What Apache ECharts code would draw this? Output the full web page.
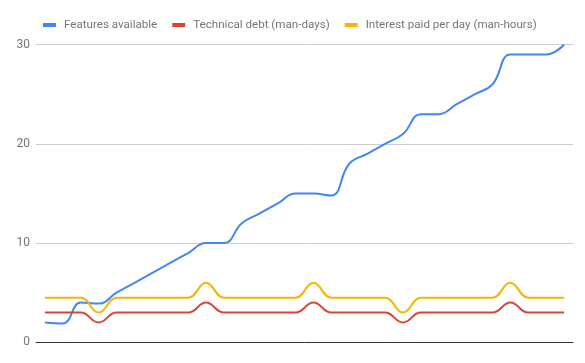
<!DOCTYPE html>
<html>
<head>
<meta charset="utf-8">
<script src="https://cdn.jsdelivr.net/npm/echarts@6/dist/echarts.min.js"></script>
<style>html,body{margin:0;padding:0;background:#fff;}#c{width:585px;height:363px;}</style>
</head>
<body>
<div id="c"></div>
<script>
const categories = Array.from({length: 30}, (_, i) => String(i + 1));
const seriesNames = ['Features available', 'Technical debt (man-days)', 'Interest paid per day (man-hours)'];
const featuresAvailable = [2, 1.9, 4, 3.9, 5, 6, 7, 8, 9, 10, 10, 12, 13, 14, 15, 15, 14.8, 18, 19, 20, 21, 23, 23, 24, 25, 26, 29, 29, 29, 30];
const technicalDebt = [3, 3, 3, 2, 3, 3, 3, 3, 3, 4, 3, 3, 3, 3, 3, 4, 3, 3, 3, 3, 2, 3, 3, 3, 3, 3, 4, 3, 3, 3];
const interestPaid = [4.5, 4.5, 4.5, 3, 4.5, 4.5, 4.5, 4.5, 4.5, 6, 4.5, 4.5, 4.5, 4.5, 4.5, 6, 4.5, 4.5, 4.5, 4.5, 3, 4.5, 4.5, 4.5, 4.5, 4.5, 6, 4.5, 4.5, 4.5];
const yTicks = [0, 10, 20, 30];
const colors = ['#4285F4', '#DB4437', '#F4B400'];

const chart = echarts.init(document.getElementById('c'), null, {renderer: 'canvas'});
const font = 'Roboto, Arial, sans-serif';
chart.setOption({
  animation: false,
  color: colors,
  textStyle: {fontFamily: font},
  legend: {
    left: 38, top: 14,
    icon: 'rect', itemWidth: 13, itemHeight: 4, itemGap: 15,
    textStyle: {color: '#757575', fontSize: 11.6, fontFamily: font, padding: [0, 0, 0, 3]},
    data: seriesNames
  },
  grid: {left: 36, right: 12, top: 44.7, bottom: 20.7},
  xAxis: {
    type: 'category', data: categories, boundaryGap: true,
    axisLine: {lineStyle: {color: '#333', width: 1}},
    axisTick: {show: false}, axisLabel: {show: false}, splitLine: {show: false}
  },
  yAxis: {
    type: 'value', min: yTicks[0], max: yTicks[yTicks.length - 1], interval: 10,
    axisLine: {show: false}, axisTick: {show: false},
    axisLabel: {color: '#757575', fontSize: 12, fontFamily: font, margin: 6},
    splitLine: {lineStyle: {color: '#cccccc', width: 1}}
  },
  series: [
    {name: seriesNames[0], type: 'line', data: featuresAvailable, smooth: 0.45, showSymbol: false, lineStyle: {width: 2}},
    {name: seriesNames[1], type: 'line', data: technicalDebt, smooth: 0.45, showSymbol: false, lineStyle: {width: 2}},
    {name: seriesNames[2], type: 'line', data: interestPaid, smooth: 0.45, showSymbol: false, lineStyle: {width: 2}}
  ]
});
</script>
</body>
</html>
